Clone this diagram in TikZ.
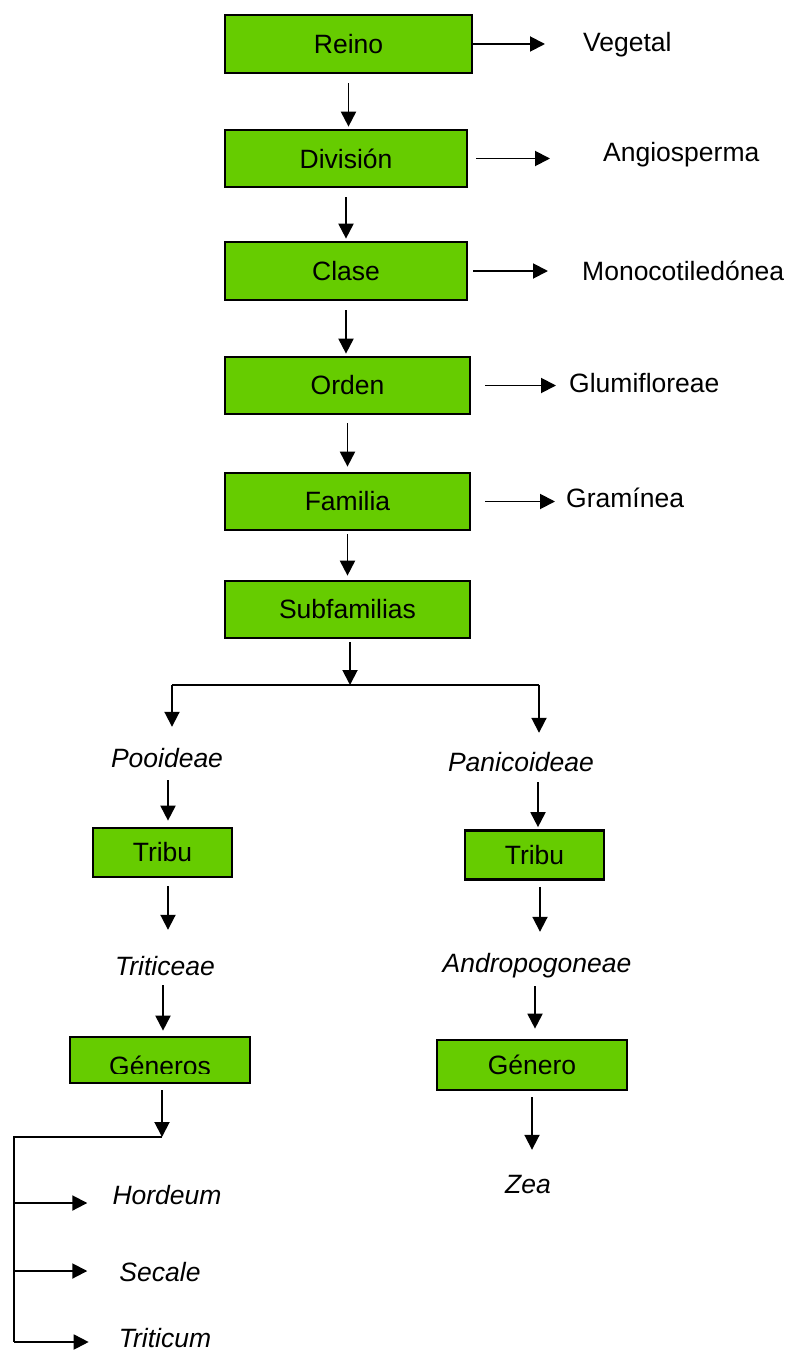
\documentclass[tikz,border=0pt]{standalone}
\usepackage{fontspec}
\setmainfont{Liberation Sans}
\usetikzlibrary{arrows.meta}
\definecolor{boxgreen}{HTML}{66CC00}
\begin{document}
\begin{tikzpicture}[x=1pt,y=-1pt,
  every node/.style={font=\fontsize{26.5}{30}\selectfont},
  rankbox/.style={draw=black, line width=2.7pt, fill=boxgreen, inner sep=0pt,
    minimum width=245pt, minimum height=57pt},
  tribebox/.style={rankbox, minimum width=139pt, minimum height=49pt},
  taxon/.style={anchor=base, inner sep=0pt, text height=19pt, text depth=6pt},
  taxonw/.style={taxon, anchor=base west},
  link/.style={line width=1.9pt},
  arr/.style={link, -{Triangle[length=15pt,width=15pt]}},
]
\useasboundingbox (0,0) rectangle (787,1351);

% ---- main ranks ----
\node[rankbox, minimum width=247pt, minimum height=58pt] (reino) at (348.5,44) {Reino};
\node[rankbox, minimum width=242pt] (division) at (346,158.5) {División};
\node[rankbox, minimum width=242pt, minimum height=58pt] (clase) at (346,271) {Clase};
\node[rankbox] (orden) at (347.5,385.5) {Orden};
\node[rankbox] (familia) at (347.5,501.5) {Familia};
\node[rankbox] (subf) at (347.5,609.5) {Subfamilias};

% ---- names of each rank ----
\node[taxonw] (vegetal) at (583,52) {Vegetal};
\node[taxonw] (angio) at (603,162) {Angiosperma};
\node[taxonw] (mono) at (582,280) {Monocotiledónea};
\node[taxonw] (glumi) at (569,392) {Glumifloreae};
\node[taxonw] (gram) at (566,507) {Gramínea};

\draw[arr, shorten >=38pt] (reino.east) -- (vegetal.west |- reino.east);
\draw[arr, shorten <=8pt, shorten >=53pt] (division.east) -- (angio.west |- division.east);
\draw[arr, shorten <=5pt, shorten >=34pt] (clase.east) -- (mono.west |- clase.east);
\draw[arr, shorten <=14pt, shorten >=13pt] (orden.east) -- (glumi.west |- orden.east);
\draw[arr, shorten <=14pt, shorten >=11pt] (familia.east) -- (gram.west |- familia.east);

\draw[arr, shorten <=9pt, shorten >=2pt] (reino.south) -- (reino.south |- division.north);
\draw[arr, shorten <=9pt, shorten >=2pt] (division.south) -- (division.south |- clase.north);
\draw[arr, shorten <=9pt, shorten >=2pt] (clase.south) -- (clase.south |- orden.north);
\draw[arr, shorten <=8pt, shorten >=5pt] (orden.south) -- (orden.south |- familia.north);
\draw[arr, shorten <=3pt, shorten >=4pt] (familia.south) -- (familia.south |- subf.north);

% ---- split into the two subfamilies ----
\coordinate (sj) at (350,685);
\coordinate (sl) at (172,685);
\coordinate (sr) at (539,685);
\draw[arr, shorten <=3pt] (subf.south -| sj) -- (sj);
\draw[link] (sl) -- (sr);

% left branch
\node[taxon] (pooideae) at (167,767) {\itshape Pooideae};
\node[tribebox] (tribul) at (162.5,852.5) {Tribu};
\node[taxon] (triticeae) at (165,975) {\itshape Triticeae};
\node[rankbox, minimum width=180pt, minimum height=46pt] (generos) at (160,1060) {};
\begin{scope}
  \clip (72,1039) rectangle (248,1073);
  \node[taxon] at (160,1075) {Géneros};
\end{scope}

\coordinate (lc1) at (168,0);
\coordinate (lc2) at (163,0);
\draw[arr, shorten >=21pt] (sl) -- (sl |- pooideae.north);
\draw[arr, shorten <=7pt, shorten >=6pt] (lc1 |- pooideae.south) -- (lc1 |- tribul.north);
\draw[arr, shorten <=8pt, shorten >=26pt] (lc1 |- tribul.south) -- (lc1 |- triticeae.north);
\draw[arr, shorten <=4pt, shorten >=5pt] (lc2 |- triticeae.south) -- (lc2 |- generos.north);

% genera of Triticeae
\coordinate (gj) at (162,1137);
\coordinate (gl) at (14,1137);
\coordinate (b1) at (14,1203);
\coordinate (b2) at (14,1271);
\coordinate (b3) at (14,1342);
\node[taxon] (hordeum) at (167,1204) {\itshape Hordeum};
\node[taxon] (secale) at (160,1281) {\itshape Secale};
\node[taxon] (triticum) at (165,1347) {\itshape Triticum};

\draw[arr, shorten <=6pt] (generos.south -| gj) -- (gj);
\draw[link] (gj) -- (gl) -- (b3);
\draw[arr, shorten >=25pt] (b1) -- (hordeum.west |- b1);
\draw[arr, shorten >=32pt] (b2) -- (secale.west |- b2);
\draw[arr, shorten >=30pt] (b3) -- (triticum.west |- b3);

% right branch
\node[taxon] (panic) at (521,771) {\itshape Panicoideae};
\node[tribebox] (tribur) at (534.5,855) {Tribu};
\node[taxon] (andro) at (537,972) {\itshape Andropogoneae};
\node[rankbox, minimum width=190pt, minimum height=50pt] (genero) at (532,1065) {Género};
\node[taxon] (zea) at (528,1193) {\itshape Zea};

\coordinate (rc1) at (538,0);
\coordinate (rc2) at (540,0);
\coordinate (rc3) at (535,0);
\coordinate (rc4) at (532,0);
\draw[arr, shorten >=19pt] (sr) -- (sr |- panic.north);
\draw[arr, shorten <=5pt, shorten >=2pt] (rc1 |- panic.south) -- (rc1 |- tribur.north);
\draw[arr, shorten <=6pt, shorten >=21pt] (rc2 |- tribur.south) -- (rc2 |- andro.north);
\draw[arr, shorten <=8pt, shorten >=10pt] (rc3 |- andro.south) -- (rc3 |- genero.north);
\draw[arr, shorten <=6pt, shorten >=24pt] (rc4 |- genero.south) -- (rc4 |- zea.north);
\end{tikzpicture}
\end{document}
